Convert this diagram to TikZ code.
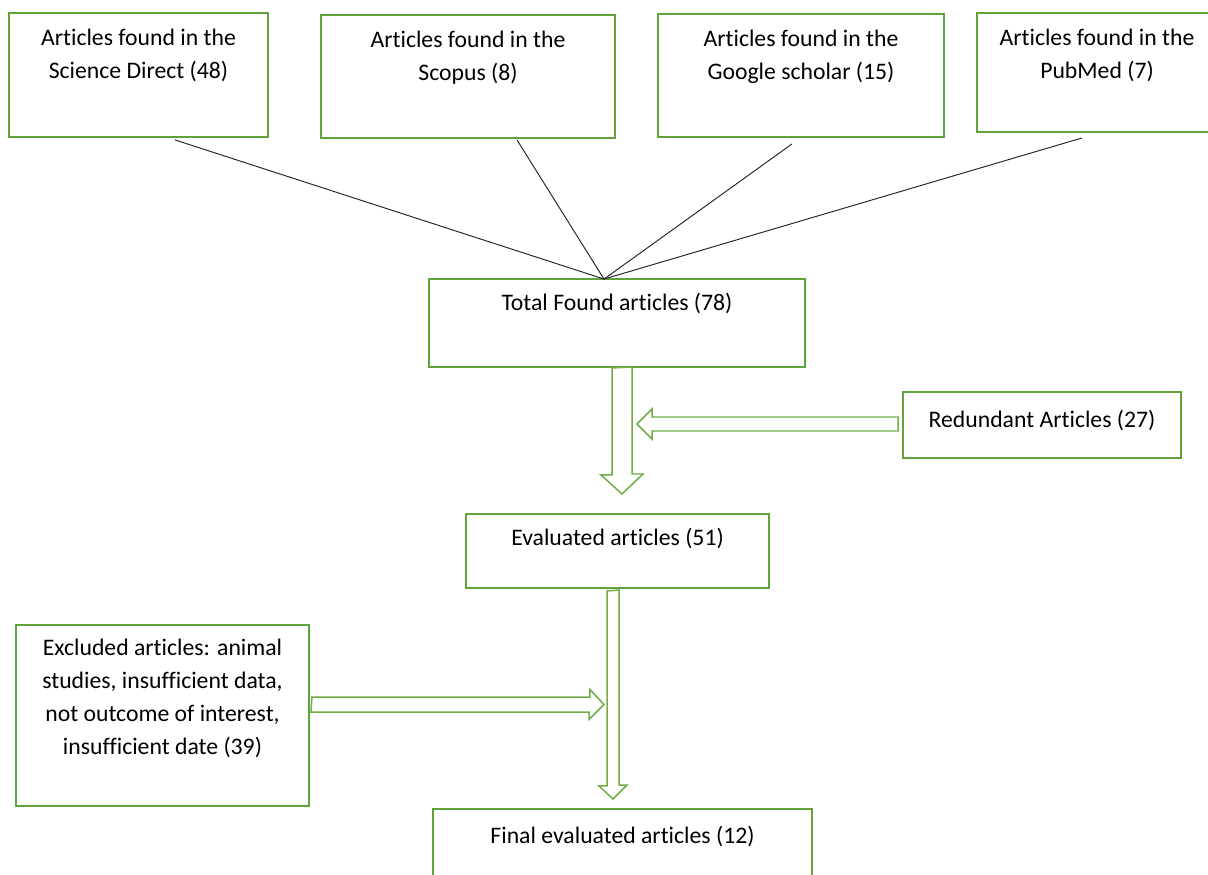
\documentclass[tikz,border=0pt]{standalone}
\usepackage{fontspec}
\setmainfont{Carlito}[Ligatures=NoCommon]
\usepackage{tikz}
\usetikzlibrary{calc,positioning}
\definecolor{boxgreen}{RGB}{96,163,56}
\definecolor{arrowgreen}{RGB}{112,173,71}
\tikzset{
  >=stealth
}

\begin{document}
\begin{tikzpicture}[x=0.02cm,y=-0.02cm,
    box/.style={rectangle,draw=boxgreen,line width=1.1pt,inner sep=0pt},
    txt/.style={align=center,inner sep=0pt,anchor=north,font=\fontsize{13.5pt}{18.8pt}\selectfont},
    hollow/.style={draw=arrowgreen,line width=0.85pt,line join=miter},
    link/.style={draw=black!85,line width=0.55pt}]
        \useasboundingbox (0,0) rectangle (1208,875);
        \clip (0,0) rectangle (1208,875);

        % sources
        \node (SD) at (138.5, 75) [box,minimum width=5.18cm,minimum height=2.48cm] {};
        \node (SC) at (468, 76.5) [box,minimum width=5.88cm,minimum height=2.46cm] {};
        \node (GS) at (801, 75.5) [box,minimum width=5.72cm,minimum height=2.46cm] {};
        \node (PM) at (1097, 72.5) [box,minimum width=4.8cm,minimum height=2.38cm] {};
        \node (SDt) [txt,below=0.33cm of SD.north] {Articles found in the\\Science Direct (48)};
        \node (SCt) [txt,below=0.33cm of SC.north] {Articles found in the\\Scopus (8)};
        \node (GSt) [txt,below=0.33cm of GS.north] {Articles found in the\\Google scholar (15)};
        \node (PMt) [txt,below=0.33cm of PM.north] {Articles found in the\\PubMed (7)};

        % flow
        \node (TOT) at (617, 323) [box,minimum width=7.52cm,minimum height=1.76cm] {};
        \node (RED) at (1042, 425) [box,minimum width=5.56cm,minimum height=1.32cm] {};
        \node (EVA) at (617.5, 551) [box,minimum width=6.06cm,minimum height=1.48cm] {};
        \node (EXC) at (162.5, 715.5) [box,minimum width=5.86cm,minimum height=3.62cm] {};
        \node (FIN) at (622.5, 849.5) [box,minimum width=7.58cm,minimum height=1.62cm] {};
        \node (TOTt) [txt,below=0.3cm of TOT.north] {Total Found articles (78)};
        \node (REDt) [txt,below=0.38cm of RED.north] {Redundant Articles (27)};
        \node (EVAt) [txt,below=0.3cm of EVA.north] {Evaluated articles (51)};
        \node (EXCt) [txt,below=0.3cm of EXC.north] {Excluded articles: animal\\studies, insufficient data,\\not outcome of interest,\\insufficient date (39)};
        \node (FINt) [txt,below=0.36cm of FIN.north] {Final evaluated articles (12)};

        \coordinate (meet) at ($(TOT.north)+(-13,1)$);
        \draw[link] ($(SD.south)+(36.5,2)$) -- (meet);
        \draw[link] ($(SC.south)+(49,1)$) -- (meet);
        \draw[link] ($(GS.south)+(-9,6)$) -- (meet);
        \draw[link] ($(PM.south)+(-15,5)$) -- (meet);

        % hollow arrows
        \coordinate (tip1) at (622, 494);
        \coordinate (tip2) at (637, 424);
        \coordinate (tip3) at (604, 704.5);
        \coordinate (tip4) at (613, 799);
        \draw[hollow] (TOT.south -| tip1) ++(-10,0) -- ++(0,107) -- ++(-11,0) -- (tip1)
            -- ++(21,-20) -- ++(-11,0) -- ++(0,-107) -- cycle;
        \draw[hollow] (tip2) -- ++(15,-15) -- ++(0,8) -- ++(246,0) -- ++(0,14)
            -- ++(-246,0) -- ++(0,8) -- cycle;
        \draw[hollow] (EXC.east |- tip3) ++(2,-7.5) -- ++(278,0) -- ++(0,-7.5) -- (tip3)
            -- ++(-15,15) -- ++(0,-7.5) -- ++(-278,0) -- cycle;
        \draw[hollow] (EVA.south -| tip4) ++(-6,2) -- ++(0,195) -- ++(-8,0) -- (tip4)
            -- ++(14,-14) -- ++(-8,0) -- ++(0,-195) -- cycle;
    \end{tikzpicture}
\end{document}
